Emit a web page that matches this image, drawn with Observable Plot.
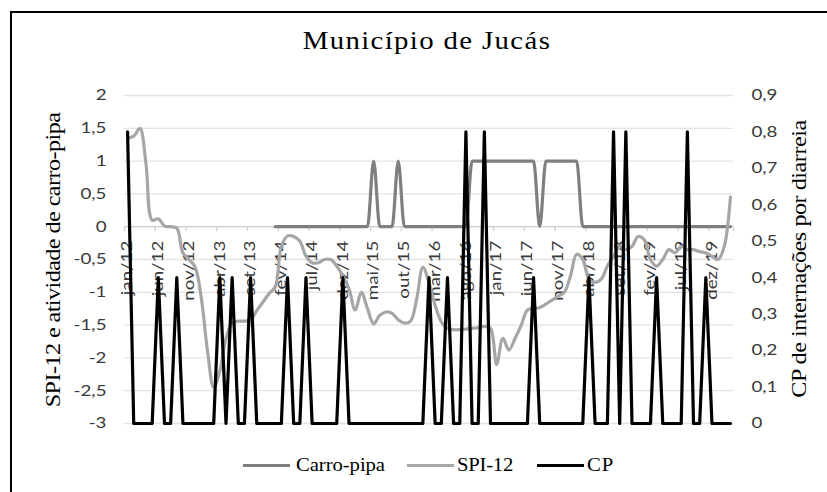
<!DOCTYPE html>
<html><head><meta charset="utf-8">
<script src="https://cdn.jsdelivr.net/npm/d3@7"></script>
<script src="https://cdn.jsdelivr.net/npm/@observablehq/plot@0.6"></script>
<style>
html,body{margin:0;padding:0;background:#fff;}
#wrap{position:relative;width:827px;height:492px;overflow:hidden;background:#fff;}
#frame{position:absolute;left:10px;top:11px;width:840px;height:520px;border:2px solid #000;box-sizing:border-box;}
.t{position:absolute;font-family:"Liberation Serif",serif;color:#000;white-space:nowrap;line-height:1;}
#title{font-size:25px;}
.ytitle{font-size:21px;}
.leg{font-size:18px;}
.sw{position:absolute;height:3px;}
#plot{position:absolute;left:0;top:0;}
</style>
</head><body>
<div id="wrap">
  <div id="frame"></div>
  <div id="plot"></div>
  <div class="t" id="title">Município de Jucás</div>
  <div class="t ytitle" id="yl">SPI-12 e atividade de carro-pipa</div>
  <div class="t ytitle" id="yr">CP de internações por diarreia</div>
  <div id="legend"></div>
</div>
<script>
// Month tick labels (every 5 months, starting jan/12)
const xTickLabels = ["jan/12","jun/12","nov/12","abr/13","set/13","fev/14","jul/14","dez/14","mai/15","out/15",
  "mar/16","ago/16","jan/17","jun/17","nov/17","abr/18","set/18","fev/19","jul/19","dez/19"];
const leftTicks = [-3,-2.5,-2,-1.5,-1,-0.5,0,0.5,1,1.5,2];
const rightTicks = [0,0.1,0.2,0.3,0.4,0.5,0.6,0.7,0.8,0.9];

// SPI-12 (monthly, jan/12 .. mar/20)
const spi = [1.35,1.38,1.5,0.95,0.1,0.12,0.01,0.0,-0.02,-0.4,
  -0.5,-0.62,-1.1,-1.9,-2.45,-2.2,-1.7,-1.47,-1.44,-1.44,
  -1.42,-1.28,-1.15,-1.02,-0.92,-0.3,-0.14,-0.15,-0.22,-0.45,
  -0.55,-0.55,-0.5,-0.5,-0.6,-0.75,-0.95,-1.27,-1.0,-1.25,
  -1.48,-1.35,-1.3,-1.32,-1.42,-1.47,-1.44,-1.1,-0.62,-0.85,
  -1.2,-1.45,-1.55,-1.57,-1.57,-1.56,-1.55,-1.54,-1.52,-1.55,
  -2.1,-1.7,-1.88,-1.7,-1.5,-1.27,-1.25,-1.23,-1.18,-1.12,
  -1.06,-1.0,-0.75,-0.42,-0.5,-0.8,-0.85,-0.8,-0.6,-0.45,
  -0.3,-0.35,-0.3,-0.15,-0.2,-0.5,-0.6,-0.5,-0.35,-0.4,
  -0.3,-0.35,-0.35,-0.38,-0.4,-0.45,-0.5,-0.3,0.45];

// Carro-pipa activity (0/1), no data before jan/14
const carroPipa = [null,null,null,null,null,null,null,null,null,null,
  null,null,null,null,null,null,null,null,null,null,
  null,null,null,null,0,0,0,0,0,0,
  0,0,0,0,0,0,0,0,0,0,
  1,0,0,0,1,0,0,0,0,0,
  0,0,0,0,0,0,1,1,1,1,
  1,1,1,1,1,1,1,0,1,1,
  1,1,1,1,0,0,0,0,0,0,
  0,0,0,0,0,0,0,0,0,0,
  0,0,0,0,0,0,0,0,0];

// CP de internações por diarreia (right axis)
const cp = [0.8,0,0,0,0,0.4,0,0,0.4,0,
  0,0,0,0,0,0.4,0,0.4,0,0,
  0.4,0,0,0,0,0,0.4,0,0,0.4,
  0,0,0,0,0,0.4,0,0,0,0,
  0,0,0,0,0,0,0,0,0,0.4,
  0,0,0.4,0,0,0.8,0,0,0.8,0,
  0,0,0,0,0,0,0.4,0,0,0,
  0,0,0,0,0,0.4,0,0,0,0.8,
  0,0.8,0,0,0,0,0.4,0,0,0,
  0,0.8,0,0,0.4,0,0,0,0];

const legendItems = [
  {name: "Carro-pipa", color: "#7f7f7f"},
  {name: "SPI-12", color: "#a6a6a6"},
  {name: "CP", color: "#000000"}
];

const N = spi.length;
const rows = d3.range(N).map(i => ({i, spi: spi[i], carro: carroPipa[i], cp: cp[i]}));
const toLeft = v => -3 + v * 5 / 0.9;
const fromLeft = v => (v + 3) * 0.9 / 5;
const loc = d3.formatLocale({decimal: ",", thousands: ".", grouping: [3], currency: ["", ""], minus: "-"});
const fmt = loc.format("~g");
const fmtR = d => fmt(+fromLeft(d).toFixed(2));
const tickBounds = d3.range(-0.5, N, 5).concat([N - 0.5]);
const labelPos = xTickLabels.map((d, k) => ({x: k * 5, label: d}));

const chart = Plot.plot({
  width: 827, height: 492,
  marginLeft: 124, marginRight: 94, marginTop: 95, marginBottom: 69,
  x: {domain: [-0.5, N - 0.5], axis: null},
  y: {domain: [-3, 2], axis: null},
  style: {background: "transparent", overflow: "visible"},
  marks: [
    Plot.ruleY(leftTicks, {y: d => d, x1: -0.5, x2: N - 0.5, stroke: "#e3e3e3", strokeWidth: 1.3}),
    Plot.ruleY([0], {x1: -0.5, x2: N - 0.5, stroke: "#d0d0d0", strokeWidth: 1.3}),
    Plot.ruleX(tickBounds, {x: d => d, y1: 0, y2: -0.075, stroke: "#d0d0d0", strokeWidth: 1.3}),
    Plot.axisY(leftTicks, {anchor: "left", tickSize: 0, tickPadding: 18, tickFormat: fmt, fontSize: 15, fontFamily: "Lato", fill: "#3a3a3a", label: null, ariaLabel: "yleft"}),
    Plot.axisY(rightTicks.map(toLeft), {anchor: "right", tickSize: 0, tickPadding: 18, tickFormat: fmtR, fontSize: 15, fontFamily: "Lato", fill: "#3a3a3a", label: null, ariaLabel: "yright"}),
    Plot.text(labelPos, {x: "x", y: () => 0, text: "label", rotate: -90, textAnchor: "end", dy: 14, fontSize: 15, fontFamily: "Lato", fill: "#3a3a3a", ariaLabel: "xlabels"}),
    Plot.line(rows, {x: "i", y: "carro", stroke: "#7f7f7f", strokeWidth: 3.2, curve: "monotone-x"}),
    Plot.line(rows, {x: "i", y: "spi", stroke: "#a6a6a6", strokeWidth: 3.2, curve: "catmull-rom"}),
    Plot.line(rows, {x: "i", y: d => toLeft(d.cp), stroke: "#000", strokeWidth: 3.2})
  ]
});
document.getElementById("plot").appendChild(chart);

// widen tick label glyphs along their reading direction to match the reference type
d3.select(chart).selectAll("text").each(function() {
  const t = this.getAttribute("transform");
  if (t && this.textContent && /[0-9]/.test(this.textContent)) {
    this.setAttribute("transform", t + " scale(1.25,1)");
  }
});

// fit HTML texts to measured reference extents: mild widening plus letter spacing
const K = 1.15;
function fit(el, target) {
  const w = el.offsetWidth;
  const n = el.textContent.length;
  el.style.letterSpacing = ((target / K - w) / n) + "px";
}
function place(el, cx, cy, target, rot) {
  fit(el, target);
  el.style.left = cx + "px";
  el.style.top = cy + "px";
  el.style.transform = `translate(-50%,-50%)${rot ? " rotate(-90deg)" : ""} scaleX(${K})`;
}
place(document.getElementById("title"), 427, 40, 248, false);
place(document.getElementById("yl"), 53, 260, 295, true);
place(document.getElementById("yr"), 799, 259, 277, true);

// Legend
const lg = document.getElementById("legend");
const legLayout = [{sw: 243, tx: 296, tw: 89}, {sw: 407, tx: 457, tw: 56}, {sw: 537, tx: 587, tw: 27}];
legendItems.forEach((it, k) => {
  const L = legLayout[k];
  const s = document.createElement("div");
  s.className = "sw";
  s.style.cssText = `left:${L.sw}px;top:464px;width:47px;background:${it.color};`;
  lg.appendChild(s);
  const t = document.createElement("div");
  t.className = "t leg";
  t.textContent = it.name;
  lg.appendChild(t);
  fit(t, L.tw);
  t.style.left = L.tx + "px";
  t.style.top = "456px";
  t.style.transformOrigin = "0 50%";
  t.style.transform = `scaleX(${K})`;
});
</script>
</body></html>
